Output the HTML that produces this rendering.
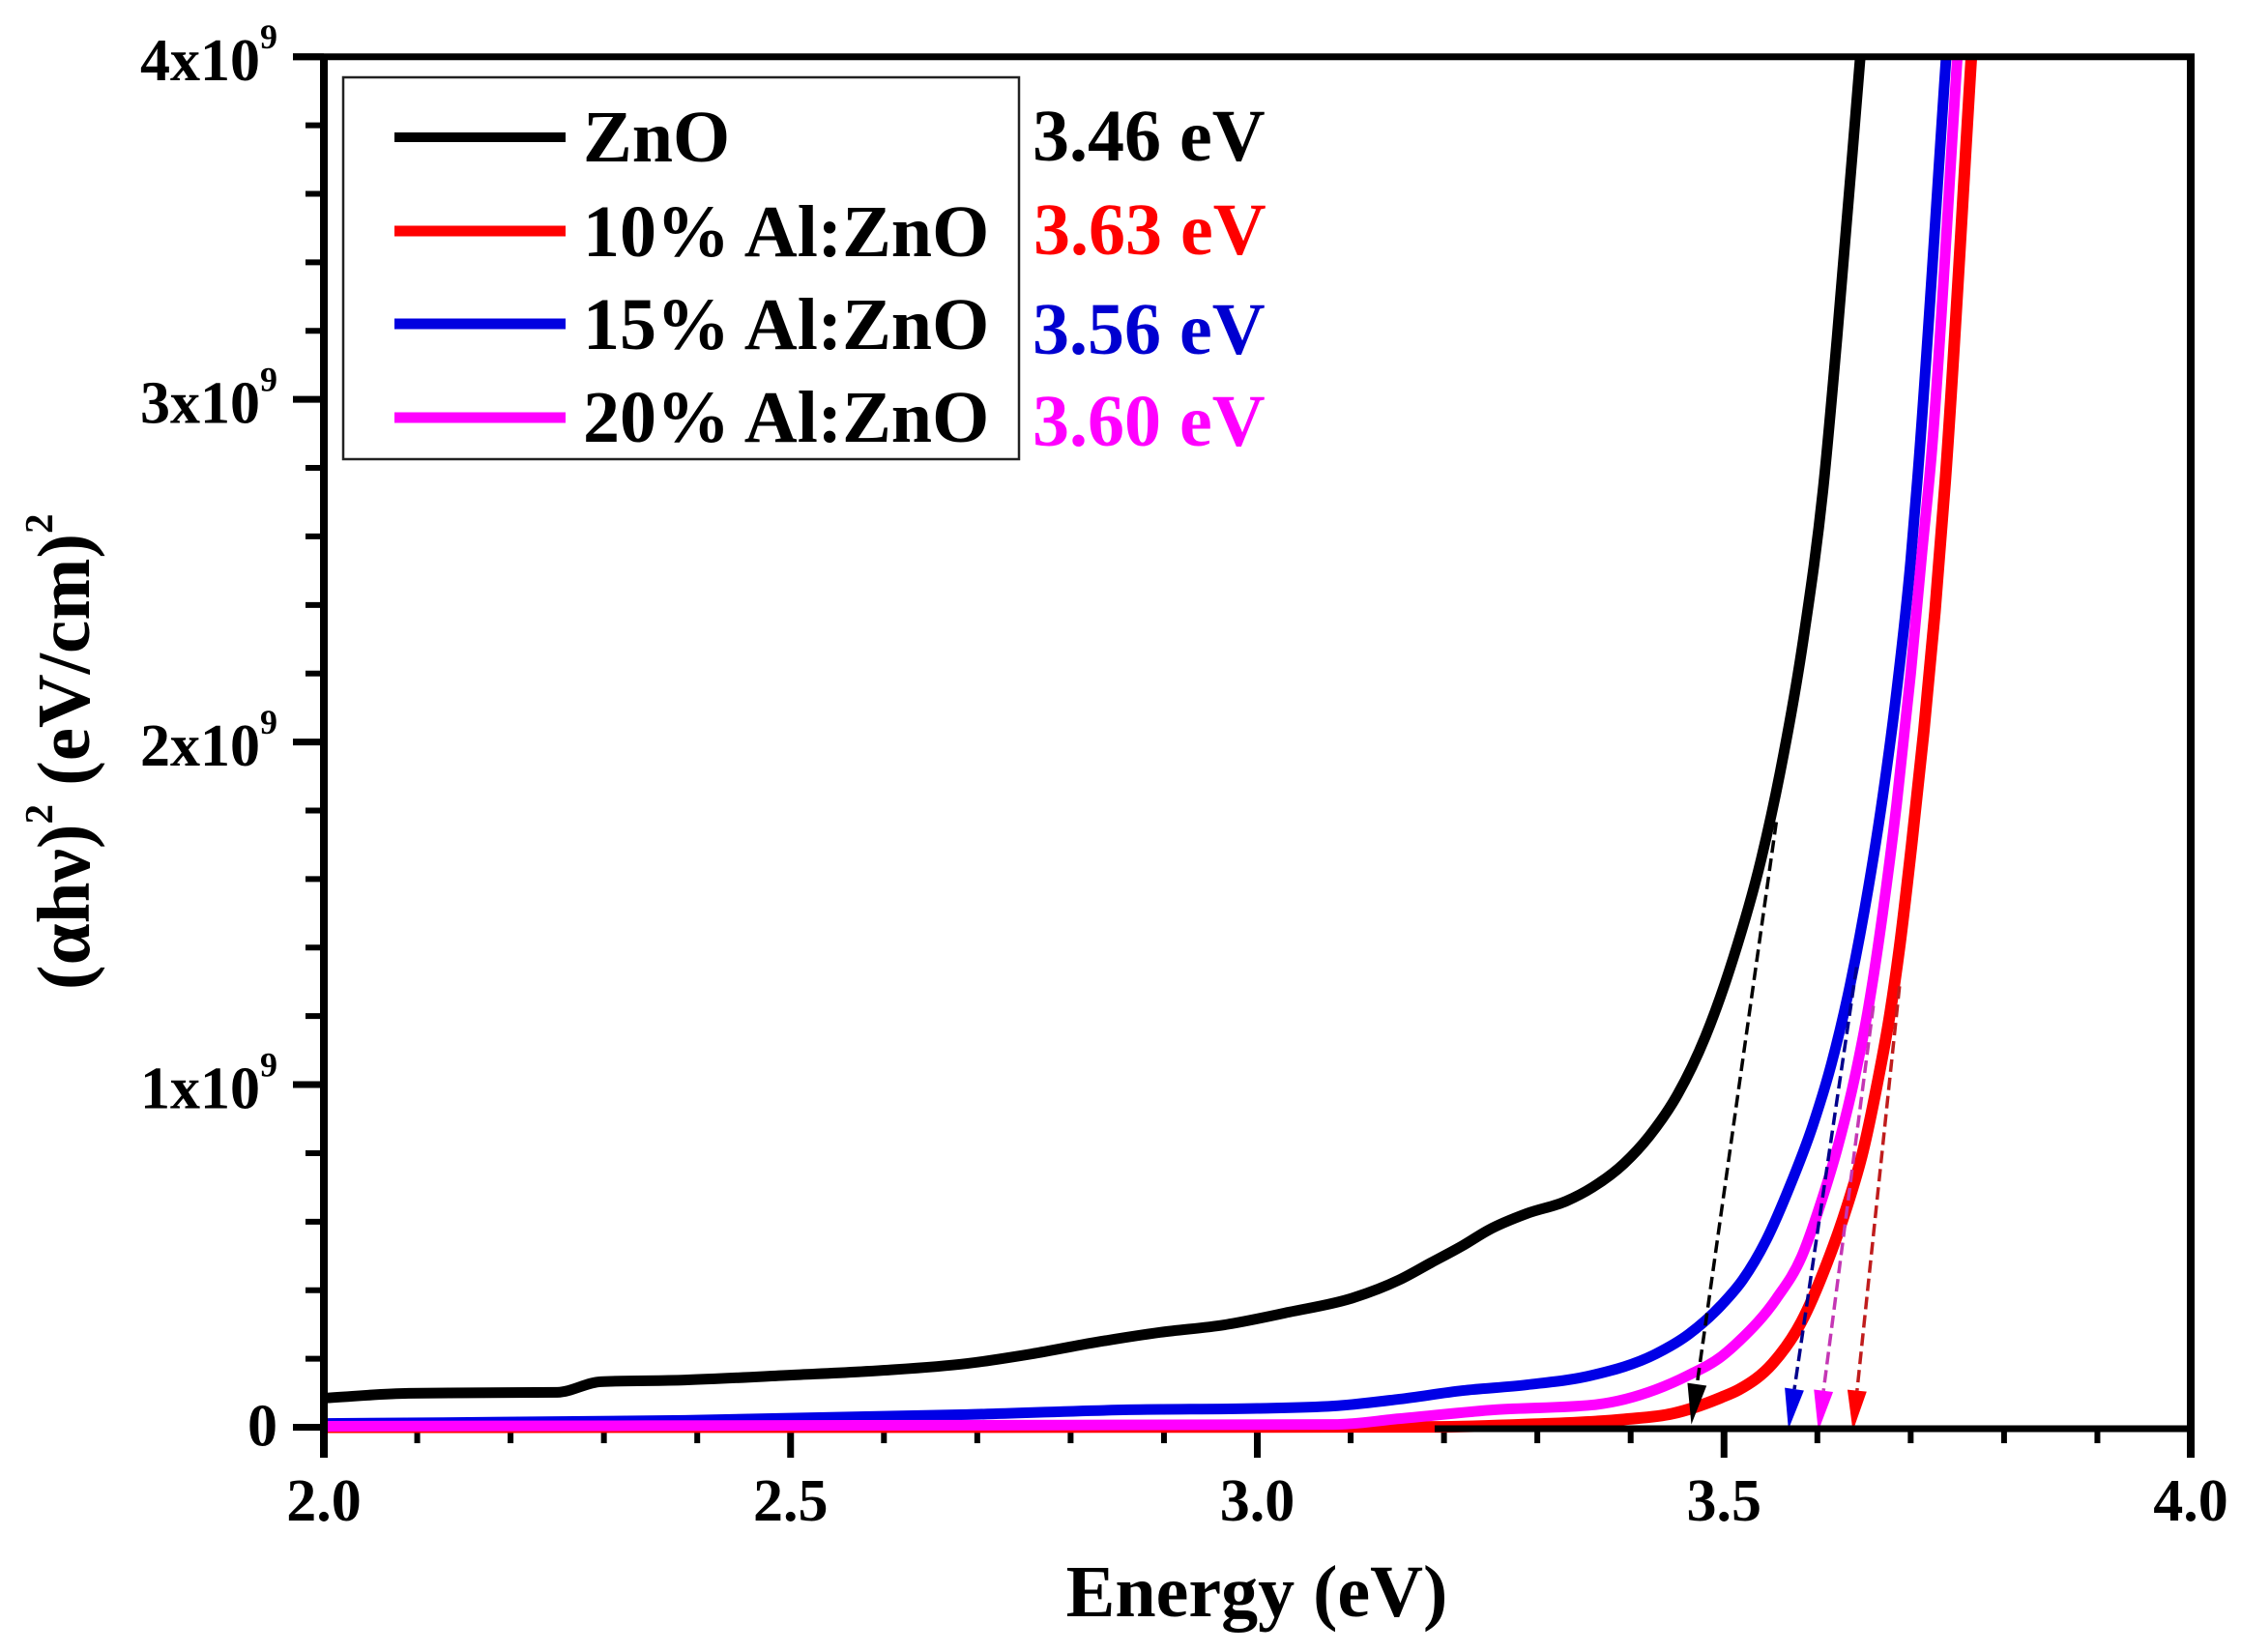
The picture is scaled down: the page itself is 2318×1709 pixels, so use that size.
<!DOCTYPE html>
<html lang="en">
<head>
<meta charset="utf-8">
<title>Tauc plot of ZnO and Al:ZnO</title>
<style>
html,body{margin:0;padding:0;background:#fff;}
svg{display:block;}
text{font-family:"Liberation Serif","Noto Serif CJK SC",serif;font-weight:bold;fill:#000;}
</style>
</head>
<body>
<svg id="chart" xmlns="http://www.w3.org/2000/svg" width="2318" height="1709" viewBox="0 0 2318 1709">
  <rect x="0" y="0" width="2318" height="1709" fill="#fff"/>
  <defs>
    <clipPath id="plot-clip"><rect x="300" y="58" width="1966" height="1450"/></clipPath>
  </defs>
  <g id="axes"></g>
  <g id="curves" clip-path="url(#plot-clip)"></g>
  <g id="arrows"></g>
  <g id="frame"></g>
  <g id="labels"></g>

  <text x="1300" y="1672" font-size="76" text-anchor="middle">Energy (eV)</text>
  <text transform="translate(92,1024) rotate(-90)" font-size="77">(αhν)<tspan font-size="41" dy="-38">2</tspan><tspan dy="38"> (eV/cm)</tspan><tspan font-size="41" dy="-38">2</tspan></text>

  <g>
    <rect x="355" y="80" width="699" height="395" fill="none" stroke="#222" stroke-width="2.5"/>
    <g>
      <line x1="408" x2="585" y1="142" y2="142" stroke="#000" stroke-width="10"/>
      <text x="603" y="167" font-size="76">ZnO</text>
    </g>
    <g>
      <line x1="408" x2="585" y1="239" y2="239" stroke="#ff0000" stroke-width="11"/>
      <text x="603" y="265" font-size="76">10% Al:ZnO</text>
    </g>
    <g>
      <line x1="408" x2="585" y1="335" y2="335" stroke="#0000e0" stroke-width="11"/>
      <text x="603" y="361" font-size="76">15% Al:ZnO</text>
    </g>
    <g>
      <line x1="408" x2="585" y1="432" y2="432" stroke="#ff00ff" stroke-width="11"/>
      <text x="603" y="457" font-size="76">20% Al:ZnO</text>
    </g>
  </g>

  <text x="1068" y="166" font-size="76" style="fill:#000">3.46 eV</text>
  <text x="1069" y="263" font-size="76" style="fill:#ff0000">3.63 eV</text>
  <text x="1068" y="366" font-size="76" style="fill:#0000d0">3.56 eV</text>
  <text x="1068" y="461" font-size="76" style="fill:#ff00ff">3.60 eV</text>
</svg>

<script>
// Axis ranges
const xDomain = [2.0, 4.0];
const yDomain = [0, 4];
const xMajorTicks = [2.0, 2.5, 3.0, 3.5, 4.0];
const xTickLabels = ['2.0', '2.5', '3.0', '3.5', '4.0'];
const yMajorTicks = [0, 1, 2, 3, 4];
const yTickLabels = ['0', '1x10', '2x10', '3x10', '4x10'];
const xMinorStep = 0.1;
const yMinorStep = 0.2;

// Series: photon energy (eV), (ahv)^2 in units of 1e9
const energyZnO = [2.00,2.091,2.25,2.297,2.387,2.499,2.599,2.689,2.758,2.827,2.896,2.965,3.034,3.103,3.152,3.186,3.220,3.248,3.289,3.331,3.359,3.393,3.42,3.45,3.48,3.51,3.54,3.56,3.585,3.607,3.621,3.646];
const valueZnO = [0.085,0.099,0.102,0.133,0.138,0.152,0.166,0.186,0.214,0.248,0.277,0.299,0.336,0.378,0.430,0.480,0.530,0.576,0.624,0.660,0.700,0.770,0.850,0.970,1.140,1.370,1.660,1.910,2.300,2.760,3.177,4.0];

const energyAl10 = [2.00,3.186,3.289,3.393,3.445,3.497,3.516,3.552,3.583,3.610,3.631,3.649,3.664,3.678,3.688,3.701,3.714,3.726,3.737,3.765];
const valueAl10 = [0.0,0.001,0.008,0.023,0.040,0.087,0.110,0.186,0.308,0.477,0.638,0.807,1.000,1.210,1.400,1.700,2.030,2.380,2.760,4.0];

const energyAl15 = [2.00,2.387,2.689,2.862,3.000,3.082,3.152,3.220,3.289,3.359,3.427,3.462,3.497,3.52,3.545,3.57,3.595,3.615,3.635,3.655,3.67,3.685,3.70,3.707,3.738];
const valueAl15 = [0.011,0.020,0.037,0.051,0.055,0.062,0.082,0.107,0.124,0.152,0.214,0.271,0.356,0.430,0.545,0.700,0.880,1.060,1.290,1.580,1.840,2.150,2.530,2.760,4.0];

const energyAl20 = [2.00,2.689,3.082,3.152,3.255,3.359,3.427,3.462,3.497,3.516,3.556,3.583,3.604,3.622,3.64,3.655,3.67,3.685,3.70,3.712,3.722,3.750];
const valueAl20 = [0.003,0.006,0.008,0.025,0.051,0.065,0.110,0.152,0.206,0.251,0.375,0.497,0.657,0.820,1.020,1.230,1.500,1.820,2.200,2.550,2.830,4.0];

// Band-gap extrapolation arrows: order ZnO, 15%, 20%, 10%
const arrowTipEnergy = [3.465,3.569,3.601,3.638];
const arrowTipValue = [0.008,-0.006,-0.011,-0.011];
const arrowTopEnergy = [3.556,3.642,3.660,3.688];
const arrowTopValue = [1.766,1.343,1.230,1.287];

const NS = 'http://www.w3.org/2000/svg';
const PLOT_LEFT = 335, PLOT_RIGHT = 2266, PLOT_TOP = 58.7, PLOT_BOTTOM = 1476.5;

function xScale(e) {
  return PLOT_LEFT + (e - xDomain[0]) / (xDomain[1] - xDomain[0]) * (PLOT_RIGHT - PLOT_LEFT);
}
function yScale(v) {
  return PLOT_BOTTOM - (v - yDomain[0]) / (yDomain[1] - yDomain[0]) * (PLOT_BOTTOM - PLOT_TOP);
}
function make(tag, attrs, parent) {
  const el = document.createElementNS(NS, tag);
  for (const k in attrs) el.setAttribute(k, attrs[k]);
  parent.appendChild(el);
  return el;
}
function smoothPath(xs, ys) {
  const n = xs.length;
  const m = [], t = [];
  for (let i = 0; i < n - 1; i++) m.push((ys[i + 1] - ys[i]) / (xs[i + 1] - xs[i]));
  t[0] = m[0];
  t[n - 1] = m[n - 2];
  for (let i = 1; i < n - 1; i++) {
    if (m[i - 1] * m[i] <= 0) { t[i] = 0; continue; }
    const h0 = xs[i] - xs[i - 1], h1 = xs[i + 1] - xs[i];
    t[i] = (m[i - 1] * h1 + m[i] * h0) / (h0 + h1);
    const lim = 2 * Math.min(Math.abs(m[i - 1]), Math.abs(m[i]));
    if (Math.abs(t[i]) > lim) t[i] = Math.sign(t[i]) * lim;
  }
  let d = 'M' + xs[0].toFixed(2) + ' ' + ys[0].toFixed(2);
  for (let i = 0; i < n - 1; i++) {
    const h = (xs[i + 1] - xs[i]) / 3;
    d += ' C' + (xs[i] + h).toFixed(2) + ' ' + (ys[i] + t[i] * h).toFixed(2) +
         ' ' + (xs[i + 1] - h).toFixed(2) + ' ' + (ys[i + 1] - t[i + 1] * h).toFixed(2) +
         ' ' + xs[i + 1].toFixed(2) + ' ' + ys[i + 1].toFixed(2);
  }
  return d;
}

const axesG = document.getElementById('axes');
const curvesG = document.getElementById('curves');
const arrowsG = document.getElementById('arrows');
const frameG = document.getElementById('frame');
const labelsG = document.getElementById('labels');

// X ticks
const xMinorCount = Math.round((xDomain[1] - xDomain[0]) / xMinorStep);
for (let i = 0; i <= xMinorCount; i++) {
  const value = xDomain[0] + i * xMinorStep;
  const isMajor = xMajorTicks.some(function (t) { return Math.abs(t - value) < 1e-6; });
  const px = xScale(value);
  const tick = make('line', {x1: px, x2: px, y1: PLOT_BOTTOM, y2: isMajor ? 1508 : 1493, stroke: '#000', 'stroke-width': isMajor ? 7 : 6}, axesG);
  
  
}
// Y ticks
const yMinorCount = Math.round((yDomain[1] - yDomain[0]) / yMinorStep);
for (let i = 0; i <= yMinorCount; i++) {
  const value = yDomain[0] + i * yMinorStep;
  const isMajor = yMajorTicks.some(function (t) { return Math.abs(t - value) < 1e-6; });
  const py = yScale(value);
  const tick = make('line', {x1: isMajor ? 303 : 316, x2: PLOT_LEFT, y1: py, y2: py, stroke: '#000', 'stroke-width': isMajor ? 7 : 6}, axesG);
  
  
}

// Curves
const seriesList = [
  {id: 'zno', color: '#000000', width: 11, e: energyZnO, v: valueZnO},
  {id: 'al-10-percent', color: '#ff0000', width: 12, e: energyAl10, v: valueAl10},
  {id: 'al-15-percent', color: '#0000e6', width: 11, e: energyAl15, v: valueAl15},
  {id: 'al-20-percent', color: '#ff00ff', width: 11, e: energyAl20, v: valueAl20}
];
seriesList.forEach(function (s) {
  const xs = s.e.map(xScale);
  const ys = s.v.map(yScale);
  const curve = make('path', {d: smoothPath(xs, ys), fill: 'none', stroke: s.color, 'stroke-width': s.width, 'stroke-linejoin': 'round'}, curvesG);
  
  
});

// Frame
const frameTop = make('line', {x1: 303, x2: PLOT_RIGHT + 4, y1: PLOT_TOP, y2: PLOT_TOP, stroke: '#000', 'stroke-width': 7}, frameG);


const frameLeft = make('line', {x1: PLOT_LEFT, x2: PLOT_LEFT, y1: PLOT_TOP, y2: 1508, stroke: '#000', 'stroke-width': 8}, frameG);


const frameRight = make('line', {x1: PLOT_RIGHT, x2: PLOT_RIGHT, y1: PLOT_TOP, y2: 1508, stroke: '#000', 'stroke-width': 8}, frameG);


const frameBottomA = make('line', {x1: 303, x2: PLOT_LEFT, y1: PLOT_BOTTOM, y2: PLOT_BOTTOM, stroke: '#000', 'stroke-width': 7}, frameG);


const frameBottomB = make('line', {x1: xScale(3.19), x2: PLOT_RIGHT, y1: PLOT_BOTTOM + 1.5, y2: PLOT_BOTTOM + 1.5, stroke: '#000', 'stroke-width': 7}, axesG);


const frameBottomC = make('line', {x1: PLOT_LEFT, x2: PLOT_RIGHT, y1: PLOT_BOTTOM + 1.5, y2: PLOT_BOTTOM + 1.5, stroke: '#000', 'stroke-width': 7}, axesG);


axesG.insertBefore(frameBottomC, axesG.firstChild);
// Right-hand part of the baseline sits over the curves
frameG.appendChild(frameBottomB);

// Arrows
const arrowLineColors = ['#000000', '#00008c', '#c436b4', '#c01c1c'];
const arrowHeadColors = ['#000000', '#0000e6', '#ff00ff', '#ff0000'];
arrowTipEnergy.forEach(function (tipE, i) {
  const tx = xScale(tipE), ty = yScale(arrowTipValue[i]);
  const sx = xScale(arrowTopEnergy[i]), sy = yScale(arrowTopValue[i]);
  const len = Math.hypot(sx - tx, sy - ty);
  const ux = (sx - tx) / len, uy = (sy - ty) / len;
  const nx = -uy, ny = ux;
  const headLen = 42, headHalf = 10;
  const bx = tx + ux * headLen, by = ty + uy * headLen;
  const shaft = make('line', {x1: sx, y1: sy, x2: bx, y2: by, stroke: arrowLineColors[i], 'stroke-width': 3.5, 'stroke-dasharray': '13 6'}, arrowsG);
  
  
  const head = make('polygon', {
    points: tx + ',' + ty + ' ' + (bx + nx * headHalf) + ',' + (by + ny * headHalf) + ' ' + (bx - nx * headHalf) + ',' + (by - ny * headHalf),
    fill: arrowHeadColors[i]
  }, arrowsG);
  
  
});

// X labels
xMajorTicks.forEach(function (value, i) {
  const label = make('text', {x: xScale(value), y: 1573, 'font-size': 62, 'text-anchor': 'middle'}, labelsG);
  label.textContent = xTickLabels[i];
  
  
});
// Y labels
yMajorTicks.forEach(function (value, i) {
  const isZero = value === 0;
  const label = make('text', {x: 287, y: yScale(value) + (isZero ? 19 : 24.5), 'font-size': 62, 'text-anchor': 'end'}, labelsG);
  label.textContent = yTickLabels[i];
  
  
  if (!isZero) {
    const exponent = make('tspan', {'font-size': 36, dy: -33}, label);
    exponent.textContent = '9';
    
    
  }
});
</script>
</body>
</html>
